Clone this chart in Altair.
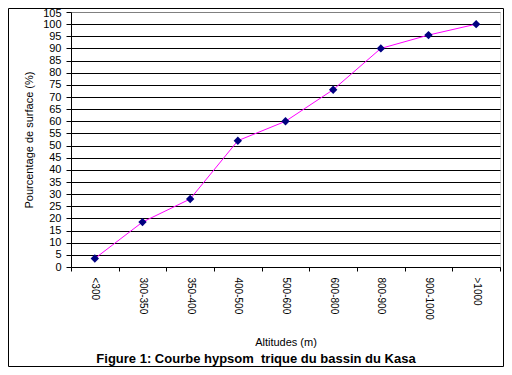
import altair as alt
import pandas as pd

categories = ["<300", "300-350", "350-400", "400-500", "500-600", "600-800", "800-900", "900-1000", ">1000"]
values = [3.5, 18.5, 28, 52, 60, 73, 90, 95.5, 100]
y_ticks = list(range(0, 106, 5))
caption = "Figure 1: Courbe hypsom\u00a0\u00a0trique du bassin du Kasa"

df = pd.DataFrame({"alt": categories, "pct": values})

FONT = "Liberation Sans"

x_enc = alt.X(
    "alt:N",
    sort=categories,
    scale=alt.Scale(type="band", paddingInner=0, paddingOuter=0),
    axis=alt.Axis(
        title="Altitudes (m)",
        titleFont=FONT, titleFontSize=11, titleFontWeight="normal", titleColor="black",
        titleY=78, titleBaseline="alphabetic",
        labelAngle=90, labelFont=FONT, labelFontSize=10, labelColor="black",
        labelPadding=6, tickBand="extent", tickSize=4, tickColor="black",
        domainColor="black", grid=False,
    ),
)
y_enc = alt.Y(
    "pct:Q",
    scale=alt.Scale(domain=[0, 105], nice=False, zero=True),
    axis=alt.Axis(
        values=y_ticks,
        title="Pourcentage de surface (%)",
        titleFont=FONT, titleFontSize=11, titleFontWeight="normal", titleColor="black",
        titlePadding=8,
        labelFont=FONT, labelFontSize=11, labelColor="black", labelPadding=5,
        labelOverlap=False,
        labelOffset={"condition": {"test": "datum.value === 105", "value": 1.5}, "value": 0},
        tickSize=5, tickColor="black", domainColor="black",
        grid=True,
        gridColor={"condition": {"test": "datum.value === 105", "value": "#808080"}, "value": "black"},
        gridOpacity=1,
    ),
)

base = alt.Chart(df)
line = base.mark_line(color="#FF00FF", strokeWidth=1).encode(x=x_enc, y=y_enc)
pts = base.mark_point(shape="diamond", filled=True, color="#000080", size=70, opacity=1).encode(x=x_enc, y=y_enc)

frame = alt.Chart(pd.DataFrame({"a": [0]})).mark_rect(fill=None, stroke="black", strokeWidth=1).encode(
    x=alt.value(-62.5), x2=alt.value(432.5), y=alt.value(-3.5), y2=alt.value(354.5)
)

cap = alt.Chart(pd.DataFrame({"t": [caption]})).mark_text(
    font=FONT, fontSize=13, fontWeight="bold", color="black", align="center", baseline="middle"
).encode(text="t:N", x=alt.value(185), y=alt.value(347))

chart = alt.layer(line, pts, frame, cap).properties(
    width=429,
    height=255,
    padding={"left": 63, "top": 4, "right": 4, "bottom": 100},
    autosize=alt.AutoSizeParams(type="none"),
).configure_view(stroke="#808080", strokeWidth=1).configure(background="white")

chart.save("out.html", embed_options={"renderer": "svg", "actions": False})
